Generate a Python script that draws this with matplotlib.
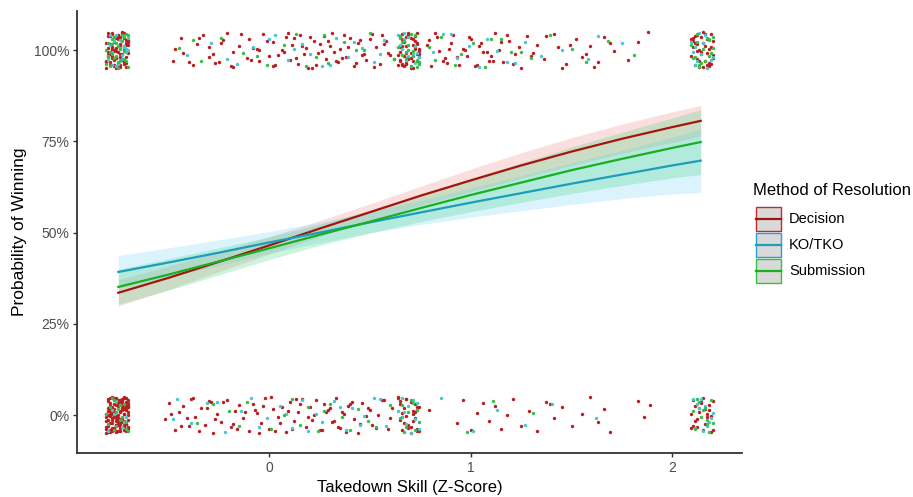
import matplotlib.pyplot as plt
from matplotlib.patches import Rectangle
from matplotlib.lines import Line2D

plt.rcParams['font.family'] = ['Liberation Sans', 'DejaVu Sans']

methods = ["Decision", "KO/TKO", "Submission"]
y_ticks = [0, 25, 50, 75, 100]
y_tick_labels = ["0%", "25%", "50%", "75%", "100%"]
x_ticks = [0, 1, 2]

# jittered observations (takedown z-score, outcome in % with jitter)
# wins: left cluster, spread, middle cluster, right cluster
dec_win_x = [-0.80, -0.72, -0.76, -0.71, -0.78, -0.74, -0.81, -0.73, -0.77, -0.70, -0.75, -0.79, -0.72, -0.74, -0.76, -0.80, -0.71,
             -0.78, -0.73, -0.75, -0.77, -0.70, -0.79, -0.74, -0.72, -0.76, -0.81, -0.73, -0.78, -0.71, -0.75, -0.77, -0.80, -0.74,
             -0.71, -0.78, -0.74, -0.80, -0.76, -0.72, -0.79, -0.75, -0.70, -0.77, -0.73, -0.81, -0.76, -0.71, -0.79, -0.74,
             -0.70, -0.78, -0.73, -0.80, -0.75, -0.72, -0.77, -0.74, -0.81, -0.76, -0.71, -0.79, -0.73, -0.78, -0.72, -0.75,
             -0.80, -0.70, -0.77, -0.74, -0.79, -0.72, -0.76, -0.78,
             -0.48, -0.44, -0.43, -0.38, -0.36, -0.33, -0.30, -0.30, -0.27, -0.23, -0.21, -0.18, -0.18, -0.15, -0.11, -0.10,
             -0.06, -0.05, -0.03, 0.00, 0.02, 0.02, 0.06, 0.08, 0.10, 0.11, 0.14, 0.15, 0.17, 0.18, 0.21, 0.22, 0.24, 0.27,
             0.28, 0.30, 0.31, 0.34, 0.35, 0.38, 0.40, 0.42, 0.44, 0.47, 0.48, 0.51, 0.53, 0.55, 0.58, 0.60,
             0.78, 0.80, 0.83, 0.84, 0.87, 0.90, 0.91, 0.94, 0.96, 0.98, 1.00, 1.03, 1.05, 1.06, 1.09, 1.12, 1.14, 1.16,
             1.19, 1.22, 1.25, 1.28, 1.31, 1.33, 1.36, 1.41, 1.43, 1.47, 1.52, 1.55, 1.59, 1.61, 1.66, 1.71, 1.78, 1.83, 1.88,
             -0.25, -0.08, 0.04, 0.12, 0.19, 0.25, 0.32, 0.36, 0.45, 0.56, 0.88, 0.97, 1.10,
             -0.47, -0.40, -0.35, -0.28, -0.24, -0.19, -0.14, -0.09, -0.05, -0.01, 0.03, 0.07, 0.09, 0.13, 0.16, 0.20, 0.23,
             0.26, 0.29, 0.33, 0.37, 0.39, 0.43, 0.46, 0.50, 0.52, 0.57, 0.59, 0.62, 0.79, 0.82, 0.86, 0.89, 0.93, 0.99, 1.02,
             1.04, 1.08, 1.11, 1.15, 1.18, 1.21, 1.24, 1.30, 1.37, 1.45, 1.49, 1.57, 1.63, 1.69,
             0.65, 0.71, 0.68, 0.73, 0.66, 0.70, 0.74, 0.67, 0.72, 0.64, 0.69, 0.71, 0.66, 0.73, 0.68, 0.70, 0.65, 0.72,
             0.67, 0.74, 0.69, 0.66, 0.71, 0.68, 0.73,
             0.64, 0.70, 0.67, 0.73, 0.69, 0.65, 0.72, 0.68, 0.74, 0.66, 0.71, 0.67, 0.73, 0.69, 0.65, 0.72, 0.70, 0.66,
             0.74, 0.68,
             2.10, 2.16, 2.13, 2.19, 2.11, 2.17, 2.14, 2.09, 2.18, 2.12, 2.15, 2.20, 2.13, 2.10, 2.17, 2.14, 2.19, 2.11,
             2.16, 2.12, 2.18, 2.15,
             2.12, 2.18, 2.09, 2.15, 2.20, 2.11, 2.16, 2.13, 2.19, 2.10, 2.17, 2.14, 2.20, 2.12]
dec_win_y = [103.8, 96.2, 100.5, 98.1, 104.6, 95.4, 101.9, 99.0, 97.3, 102.7, 104.1, 96.8, 100.0, 95.9, 103.2, 98.6, 101.4,
             97.7, 104.9, 99.5, 96.0, 102.2, 98.9, 103.5, 101.0, 95.2, 97.0, 104.3, 100.8, 96.5, 102.9, 99.8, 98.3, 101.6,
             95.3, 98.4, 101.5, 104.6, 97.7, 100.8, 103.9, 96.0, 99.1, 102.2, 104.8, 96.6, 99.7, 102.8, 95.9, 98.2,
             101.3, 104.4, 97.5, 100.6, 103.7, 96.8, 99.9, 103.0, 95.1, 98.0, 101.9, 104.2, 97.3, 100.4, 103.4, 96.4,
             99.5, 102.6, 95.7, 98.8, 101.7, 104.7, 97.8, 100.1,
             97.1, 103.4, 99.2, 95.8, 101.7, 104.2, 98.0, 100.9, 96.4, 102.8, 104.7, 99.6, 95.3, 101.2, 97.9, 103.0,
             100.3, 96.9, 104.4, 98.5, 102.1, 95.6, 99.9, 103.7, 97.4, 101.5, 96.1, 104.0, 98.8, 100.6, 95.0, 102.5, 99.3, 103.9,
             97.6, 101.1, 104.8, 96.7, 100.2, 98.2, 103.3, 95.7, 101.8, 99.0, 97.2, 104.5, 100.7, 96.3, 102.4, 98.7,
             101.3, 95.5, 103.6, 99.7, 97.8, 102.0, 104.1, 96.0, 100.4, 98.4, 103.1, 95.9, 101.9, 99.4, 97.0, 104.6, 100.1, 96.6,
             102.6, 98.9, 95.2, 103.8, 99.1, 101.4, 97.5, 104.3, 100.8, 96.2, 102.9, 98.1, 101.0, 95.4, 103.5, 99.8, 97.3, 102.3, 104.9,
             96.8, 100.5, 98.6, 103.2, 95.1, 101.6, 99.5, 97.7, 102.7, 104.0, 96.5, 100.0, 98.3,
             100.2, 96.7, 103.3, 98.8, 101.9, 95.5, 104.4, 97.3, 100.0, 102.6, 96.0, 99.5, 104.8, 97.9, 101.2, 103.7, 95.9,
             99.8, 102.4, 97.1, 104.2, 100.9, 96.4, 98.6, 103.0, 95.3, 101.6, 99.2, 97.6, 102.8, 104.6, 96.9, 100.3, 98.0, 103.5, 95.7,
             101.0, 99.4, 97.0, 102.2, 104.0, 96.2, 100.7, 98.3, 103.8, 95.2, 101.4, 99.0, 96.6, 102.0,
             99.6, 103.1, 96.3, 101.8, 104.5, 97.9, 100.4, 95.6, 102.6, 98.7, 104.0, 96.9, 101.1, 99.0, 103.7, 95.2, 97.4, 100.9,
             102.2, 98.1, 104.8, 96.0, 101.5, 99.3, 97.0,
             95.8, 99.1, 102.4, 104.7, 97.6, 100.7, 103.9, 96.5, 99.8, 102.9, 95.1, 98.4, 101.6, 104.2, 97.0, 100.2, 103.3, 96.1,
             98.9, 101.2,
             102.4, 97.1, 100.0, 104.3, 95.8, 99.2, 103.6, 98.4, 96.5, 101.7, 104.9, 97.8, 95.3, 100.8, 102.9, 98.9, 96.2, 103.9,
             101.2, 99.7, 95.6, 102.0,
             97.5, 100.4, 103.0, 95.4, 98.7, 101.9, 104.5, 96.9, 100.9, 103.4, 95.9, 99.5, 102.5, 104.0]
ko_win_x = [-0.79, -0.73, -0.76, -0.71, -0.78, -0.74, -0.80, -0.72, -0.75, -0.77, -0.70, -0.74,
            -0.75, -0.71, -0.79, -0.73, -0.77, -0.80, -0.72, -0.76, -0.70, -0.78,
            -0.41, -0.29, -0.16, -0.08, 0.03, 0.09, 0.16, 0.20, 0.26, 0.33, 0.39, 0.46, 0.52, 0.57, 0.81, 0.86, 0.93, 0.99,
            1.04, 1.08, 1.13, 1.18, 1.27, 1.35, 1.45, 1.58, 1.63, 1.75,
            -0.21, 0.00, 0.12, 0.30, 0.42, 0.55, 0.90, 1.22,
            0.66, 0.72, 0.69, 0.74, 0.65, 0.70, 0.67, 0.73, 0.68, 0.71, 0.67, 0.74, 0.64, 0.69, 0.72,
            2.12, 2.18, 2.10, 2.15, 2.20, 2.13, 2.17, 2.11, 2.14, 2.09, 2.19, 2.16, 2.11]
ko_win_y = [101.3, 97.6, 104.2, 99.4, 95.9, 102.8, 98.3, 100.7, 96.1, 103.5, 99.9, 97.0,
            96.3, 100.2, 104.0, 98.7, 102.5, 97.4, 101.2, 95.6, 103.3, 99.4,
            98.6, 102.0, 96.2, 100.8, 104.1, 97.3, 101.6, 99.0, 95.7, 103.3, 98.1, 100.5, 96.8, 102.7, 99.5, 104.4, 97.8, 101.0,
            95.4, 103.0, 99.8, 96.6, 102.3, 98.4, 100.1, 97.5, 103.8, 101.9,
            97.6, 103.1, 100.4, 95.8, 102.2, 98.9, 104.4, 96.5,
            100.2, 96.4, 103.6, 98.0, 101.4, 95.5, 104.6, 99.1, 97.2, 99.3, 102.9, 96.7, 104.0, 98.5, 101.0,
            96.9, 103.1, 99.6, 101.8, 98.2, 104.7, 95.1, 100.9, 99.0, 102.3, 97.4, 104.2, 96.0]
sub_win_x = [-0.78, -0.72, -0.75, -0.80, -0.71, -0.77, -0.74, -0.79, -0.73, -0.76, -0.70, -0.81, -0.75, -0.72, -0.78, -0.74,
             -0.73, -0.79, -0.71, -0.76, -0.80, -0.74, -0.70, -0.77, -0.72, -0.78, -0.75, -0.81,
             -0.45, -0.34, -0.24, -0.13, -0.01, 0.07, 0.13, 0.23, 0.29, 0.37, 0.43, 0.50, 0.62, 0.79, 0.85, 0.92, 0.95, 1.01,
             1.07, 1.15, 1.20, 1.30, 1.39, 1.50, 1.57, 1.68, 1.81,
             -0.38, -0.06, 0.18, 0.27, 0.47, 0.82, 1.10, 1.25,
             0.67, 0.73, 0.64, 0.70, 0.72, 0.66, 0.69, 0.74, 0.65, 0.71, 0.68, 0.69, 0.74, 0.65, 0.71, 0.66, 0.73, 0.68, 0.70,
             2.11, 2.17, 2.14, 2.09, 2.19, 2.12, 2.16, 2.20, 2.13, 2.18, 2.15, 2.10, 2.20, 2.13, 2.18, 2.12]
sub_win_y = [99.0, 103.5, 96.6, 101.9, 104.4, 97.8, 100.3, 95.5, 102.6, 98.5, 104.0, 96.1, 101.1, 99.7, 103.0, 97.2,
             104.1, 99.5, 96.9, 102.0, 98.0, 100.5, 95.4, 103.6, 97.6, 101.7, 95.0, 99.9,
             100.6, 97.0, 103.2, 99.3, 95.8, 101.5, 104.3, 98.2, 96.4, 102.1, 99.9, 104.8, 97.5, 100.9, 103.6, 96.0, 98.8, 101.8,
             95.3, 102.9, 99.5, 97.9, 104.1, 100.2, 96.7, 102.4, 98.6,
             102.7, 98.3, 95.7, 104.0, 100.1, 97.2, 103.0, 99.6,
             102.5, 97.4, 100.8, 95.7, 104.2, 98.6, 101.3, 96.2, 103.4, 99.8, 97.9, 100.0, 96.6, 103.9, 98.3, 102.1, 95.3, 99.6, 104.5,
             98.0, 103.2, 96.4, 101.5, 99.3, 104.5, 97.1, 100.6, 95.9, 102.7, 100.2, 97.8, 103.7, 95.3, 98.5, 102.1]

# losses
dec_loss_x = [-0.80, -0.74, -0.77, -0.71, -0.79, -0.73, -0.76, -0.70, -0.78, -0.72,
              -0.75, -0.81, -0.74, -0.77, -0.71, -0.79, -0.73, -0.76, -0.70, -0.78,
              -0.72, -0.75, -0.80, -0.74, -0.77, -0.71, -0.79, -0.73, -0.76, -0.70,
              -0.78, -0.72, -0.75, -0.81, -0.74, -0.77, -0.71, -0.79, -0.73, -0.76,
              -0.70, -0.78, -0.72, -0.75, -0.80, -0.74, -0.77, -0.71, -0.79, -0.73,
              -0.76, -0.70, -0.78, -0.72, -0.75, -0.81, -0.74, -0.77, -0.71, -0.79,
              -0.73, -0.76, -0.70, -0.78, -0.72, -0.75, -0.80, -0.76, -0.73, -0.78,
              -0.80, -0.76, -0.72, -0.79, -0.74, -0.70, -0.77, -0.72, -0.79, -0.75,
              -0.70, -0.77, -0.73, -0.80, -0.75, -0.71, -0.78, -0.73, -0.80, -0.76,
              -0.72, -0.78, -0.74, -0.81, -0.76, -0.72, -0.79, -0.74, -0.70, -0.77,
              -0.81, -0.75, -0.71, -0.78, -0.74, -0.80, -0.76, -0.71, -0.78, -0.73,
              -0.80, -0.75, -0.71, -0.77, -0.73, -0.79, -0.75, -0.70, -0.77, -0.72,
              -0.79, -0.74, -0.70, -0.76, -0.72, -0.79, -0.74, -0.81, -0.76, -0.72,
              -0.52, -0.50, -0.47, -0.45, -0.43, -0.40, -0.38, -0.37, -0.34, -0.32,
              -0.30, -0.28, -0.26, -0.24, -0.21, -0.19, -0.17, -0.15, -0.13, -0.10,
              -0.08, -0.06, -0.04, -0.02, 0.00, 0.02, 0.04, 0.06, 0.08, 0.10,
              0.12, 0.14, 0.16, 0.18, 0.20, 0.22, 0.25, 0.27, 0.29, 0.31,
              0.33, 0.35, 0.37, 0.39, 0.42, 0.44, 0.46, 0.49, 0.51, 0.54,
              0.56, 0.59, 0.61, -0.41, -0.29, -0.18, -0.07, 0.03, 0.13, 0.21,
              0.28, 0.34, 0.40, 0.48, 0.79, 0.93, 0.96, 1.00, 1.03, 1.06,
              1.09, 1.12, 1.15, 1.18, 1.21, 1.25, 1.29, 1.33, 1.37, 1.41,
              1.45, 1.50, 1.55, 1.59, 1.63, 1.66, 1.69, 1.83, 1.86, 1.89,
              -0.49, -0.44, -0.39, -0.35, -0.31, -0.27, -0.23, -0.16, -0.12, -0.05,
              -0.03, 0.01, 0.05, 0.09, 0.11, 0.15, 0.19, 0.23, 0.26, 0.30,
              0.32, 0.36, 0.38, 0.41, 0.45, 0.50, 0.53, 0.57, 0.60, 1.39,
              0.65, 0.71, 0.68, 0.73, 0.66, 0.70, 0.74, 0.67, 0.72, 0.64, 0.69, 0.71, 0.66, 0.73, 0.68, 0.70, 0.65, 0.72,
              0.67, 0.73, 0.64, 0.70, 0.66, 0.72, 0.69, 0.74, 0.65, 0.71, 0.68, 0.73,
              2.10, 2.16, 2.13, 2.19, 2.11, 2.17, 2.14, 2.09, 2.18, 2.12, 2.15, 2.20, 2.13, 2.10, 2.17, 2.14,
              2.11, 2.18, 2.15, 2.09, 2.20, 2.12, 2.16, 2.19]
dec_loss_y = [3.8, -2.1, 0.6, -4.5, 2.4, -0.9, 4.7, -3.3, 1.2, -1.6,
              4.1, -4.9, 2.9, -0.2, -3.8, 1.7, 3.3, -2.7, 0.1, -4.1,
              2.0, -1.1, 4.4, -3.0, 0.9, 3.6, -4.7, 1.5, -0.5, 2.7,
              -3.5, 4.9, -1.9, 0.4, -4.3, 3.0, -2.4, 1.0, 4.3, -0.7,
              -4.0, 2.2, -2.9, 3.9, -1.3, 0.8, -3.6, 4.6, -0.3, 1.9,
              -4.6, 3.4, -2.2, 0.3, 2.6, -1.7, 4.0, -3.9, 1.3, -0.1,
              3.1, -4.4, 2.3, -1.4, 4.8, -2.6, 0.0, -3.1, 1.8, -0.8,
              -4.6, -1.5, 1.6, 4.7, -2.2, 0.9, 4.0, -2.9, 0.2, 3.3,
              -3.6, -0.5, 2.6, -4.3, -1.2, 1.9, 4.9, -2.0, 1.1, 4.2,
              -2.7, 0.4, 3.5, -3.4, -0.3, 2.8, -4.1, -1.0, 2.1, 4.8,
              -3.9, -0.8, 2.3, -4.4, -1.3, 1.8, 4.5, -2.4, 0.7, 3.8,
              -3.1, 0.0, 3.1, -3.8, -0.7, 2.4, -4.5, -1.4, 1.7, 4.8,
              -2.1, 1.0, 4.1, -2.8, 0.3, 3.4, -3.5, -0.4, 2.7, -4.2,
              -1.2, 3.4, -4.1, 0.7, 2.5, -3.0, 4.6, -0.4, 1.9, -2.6,
              3.9, -4.8, 0.2, -1.8, 4.2, -3.4, 1.1, 2.8, -0.9, -4.4,
              3.1, 0.5, -2.3, 4.8, -3.8, 1.6, -0.6, 2.1, -4.6, 3.6,
              -1.5, 0.9, 4.4, -3.2, 2.3, -0.1, -4.2, 3.0, 1.4, -2.0,
              4.7, -3.6, 0.4, 2.6, -1.0, -4.9, 3.3, 1.8, -2.8, 0.0,
              4.0, -3.9, 2.0, -0.7, 3.7, -2.5, 1.3, -4.3, 4.5, -1.4,
              0.8, -3.3, 2.9, -0.3, 1.5, -2.2, 4.1, -4.0, 0.6, 3.2,
              -1.7, 2.4, -3.7, 0.1, 4.3, -2.9, 1.0, -4.5, 3.5, -0.8,
              2.2, -3.1, 0.3, 4.9, -1.9, 1.7, -4.7, 3.8, -0.5, 2.7,
              0.3, -2.9, 4.4, -4.5, 1.8, -1.1, 3.6, -3.7, 0.9, -4.8,
              2.4, 4.9, -2.2, 1.2, -3.9, 3.0, -0.6, 4.2, -4.0, 2.0,
              -1.6, 0.7, -4.6, 3.5, -2.4, 1.5, -3.5, 4.0, -0.9, 2.9,
              2.9, -1.6, 4.3, -3.8, 0.5, 3.6, -4.5, 1.8, -0.8, 4.9, -2.7, 1.1, -4.1, 2.3, -0.2, -3.3, 3.9, 0.9,
              -2.3, 1.4, 4.6, -4.8, -0.5, 3.0, -3.6, 2.1, -1.4, 0.3, 4.5, -4.3,
              4.1, -2.4, 0.8, -4.6, 2.6, -0.5, 3.4, -3.5, 1.5, -1.2, 4.8, -4.0, 2.0, -3.0, 0.2, 3.7,
              -1.6, 2.7, -4.2, 0.4, 3.9, -3.2, 1.7, -0.3]
ko_loss_x = [-0.78, -0.73, -0.76, -0.71, -0.80, -0.74, -0.77, -0.72,
             -0.46, -0.39, -0.31, -0.22, -0.14, -0.09, -0.01, 0.05, 0.11, 0.16, 0.23, 0.26, 0.32, 0.38, 0.41, 0.47,
             0.52, 0.58, 0.85, 1.01, 1.13, 1.27, 1.40, 1.62,
             -0.48, -0.26, -0.05, 0.08, 0.19, 0.35, 0.45, 0.55,
             0.66, 0.72, 0.69, 0.74, 0.67, 0.70, 0.73, 0.68, 0.64, 0.71, 0.66,
             2.12, 2.18, 2.10, 2.15, 2.20, 2.13, 2.17, 2.16, 2.11, 2.19, 2.14]
ko_loss_y = [1.5, -3.2, 3.9, -0.6, -4.4, 2.7, 0.3, -2.0,
             4.5, -2.3, 3.2, -4.7, 1.0, 4.8, -0.9, 2.6, -3.6, 4.2, 0.4, -1.8, 3.8, -4.2, 1.9, -0.3,
             4.6, -3.1, 4.7, -4.5, 1.4, -2.6, 3.0, -0.7,
             -1.2, 3.6, -3.3, 0.2, -4.4, 2.2, -2.6, 4.4,
             4.6, -1.1, 2.4, -3.9, 0.7, -4.8, 3.3, -2.5, 1.2, 4.0, -0.4,
             3.1, -1.9, 4.5, -4.3, 0.6, 1.9, -2.9, 2.6, -3.6, -0.8, 4.3]
sub_loss_x = [-0.79, -0.74, -0.77, -0.71, -0.76, -0.72, -0.80, -0.75, -0.70, -0.78, -0.73, -0.76, -0.81, -0.74, -0.71, -0.77,
              -0.36, -0.20, -0.11, 0.01, 0.07, 0.15, 0.19, 0.24, 0.30, 0.36, 0.44, 0.53, 0.60, 0.98, 1.11, 1.31,
              -0.28, -0.15, 0.11, 0.27, 0.40, 0.49,
              0.65, 0.71, 0.68, 0.73, 0.67, 0.70, 0.69, 0.74, 0.66, 0.72,
              2.11, 2.16, 2.14, 2.19, 2.10, 2.17, 2.13, 2.18, 2.12, 2.17, 2.15, 2.20]
sub_loss_y = [2.2, -1.4, 4.0, -3.7, 0.9, 3.1, -2.5, 1.6, -4.5, 4.6, -0.6, -3.0, 0.2, 2.8, -1.9, -4.1,
              -2.1, 1.2, 3.5, -3.9, 0.0, -2.7, 2.1, -4.4, 3.1, -0.5, 1.7, -3.4, 2.8, -4.6, 3.8, 0.6,
              2.9, -3.0, 4.4, 1.0, -4.2, -1.5,
              -0.9, 3.4, -3.2, 1.5, -4.6, 4.2, 0.8, -2.0, 2.7, -4.0,
              -3.8, 2.0, -0.6, 4.2, 1.1, -2.5, 3.6, -4.7, 4.5, -1.3, 1.4, -2.2]

# fitted probability of winning (%) and half-width of confidence band
fit_x = [-0.75, -0.5, -0.25, 0.0, 0.25, 0.5, 0.75, 1.0, 1.25, 1.5, 1.75, 2.0, 2.14]
dec_fit = [33.5, 37.6, 42.0, 46.5, 51.1, 55.6, 60.1, 64.3, 68.4, 72.2, 75.7, 78.9, 80.6]
ko_fit = [39.2, 41.8, 44.5, 47.3, 50.0, 52.8, 55.5, 58.2, 60.8, 63.4, 65.9, 68.4, 69.7]
sub_fit = [35.1, 38.5, 42.1, 45.7, 49.4, 53.0, 56.7, 60.3, 63.7, 67.1, 70.2, 73.2, 74.8]
dec_ci = [3.6, 3.2, 2.7, 2.4, 2.2, 2.3, 2.6, 3.1, 3.5, 3.8, 4.0, 4.2, 4.2]
ko_ci = [4.5, 4.0, 3.5, 3.0, 2.8, 2.9, 3.3, 4.0, 4.8, 5.7, 6.6, 7.8, 8.7]
sub_ci = [4.8, 4.3, 3.7, 3.1, 2.9, 3.1, 3.7, 4.6, 5.4, 6.4, 7.3, 8.2, 8.9]

point_colors = ["#bb1e22", "#48c6d2", "#34c043"]
line_colors = ["#a3150f", "#1d9cbc", "#18b020"]
fill_colors = ["#f08080", "#6fd0f5", "#3dd67a"]
key_edges = ["#c42a2a", "#2a9fd4", "#33c23a"]

W, H = 913, 497
fig = plt.figure(figsize=(W / 100, H / 100), dpi=100)
ax = fig.add_axes([77 / W, 1 - 453 / H, (742 - 77) / W, (453 - 11) / H])

groups = [(dec_win_x, dec_win_y, dec_loss_x, dec_loss_y),
          (ko_win_x, ko_win_y, ko_loss_x, ko_loss_y),
          (sub_win_x, sub_win_y, sub_loss_x, sub_loss_y)]
for i, (wx, wy, lx, ly) in enumerate(groups):
    ax.scatter(wx, wy, s=6, color=point_colors[i], linewidths=0, zorder=2)
    ax.scatter(lx, ly, s=6, color=point_colors[i], linewidths=0, zorder=2)

fits = [(dec_fit, dec_ci), (ko_fit, ko_ci), (sub_fit, sub_ci)]
for i, (p, ci) in enumerate(fits):
    lo = [a - b for a, b in zip(p, ci)]
    hi = [a + b for a, b in zip(p, ci)]
    ax.fill_between(fit_x, lo, hi, color=fill_colors[i], alpha=0.25, linewidth=0, zorder=3)
for i, (p, ci) in enumerate(fits):
    ax.plot(fit_x, p, color=line_colors[i], lw=1.6, zorder=4)

ax.set_xlim(-0.955, 2.345)
ax.set_ylim(-10.4, 110.7)
ax.set_xticks(x_ticks)
ax.set_yticks(y_ticks)
ax.set_yticklabels(y_tick_labels)
for s in ["top", "right"]:
    ax.spines[s].set_visible(False)
for s in ["left", "bottom"]:
    ax.spines[s].set_color("#333333")
    ax.spines[s].set_linewidth(1.3)
ax.tick_params(length=3, width=1, color="#333333", labelcolor="#4d4d4d", labelsize=10, pad=2.5)
ax.set_xlabel("Takedown Skill (Z-Score)", fontsize=12, labelpad=4)
ax.set_ylabel("Probability of Winning", fontsize=12.5, labelpad=5)

# legend drawn by hand: ggplot style keys (grey box, coloured outline, line across)
fig.text(753 / W, 1 - 190 / H, "Method of Resolution", fontsize=12, va="center", ha="left")
key_tops = [207, 233, 259]
for i, name in enumerate(methods):
    top = key_tops[i]
    fig.add_artist(Rectangle((756 / W, 1 - (top + 24) / H), 25 / W, 24 / H, transform=fig.transFigure,
                             facecolor="#d9d9d9", edgecolor=key_edges[i], linewidth=1.0))
    fig.add_artist(Line2D([756 / W, 781 / W], [1 - (top + 12) / H] * 2, transform=fig.transFigure,
                          color=line_colors[i], lw=1.6))
    fig.text(789 / W, 1 - (top + 12) / H, name, fontsize=10.5, va="center", ha="left")

fig.savefig("out.png", dpi=100)
